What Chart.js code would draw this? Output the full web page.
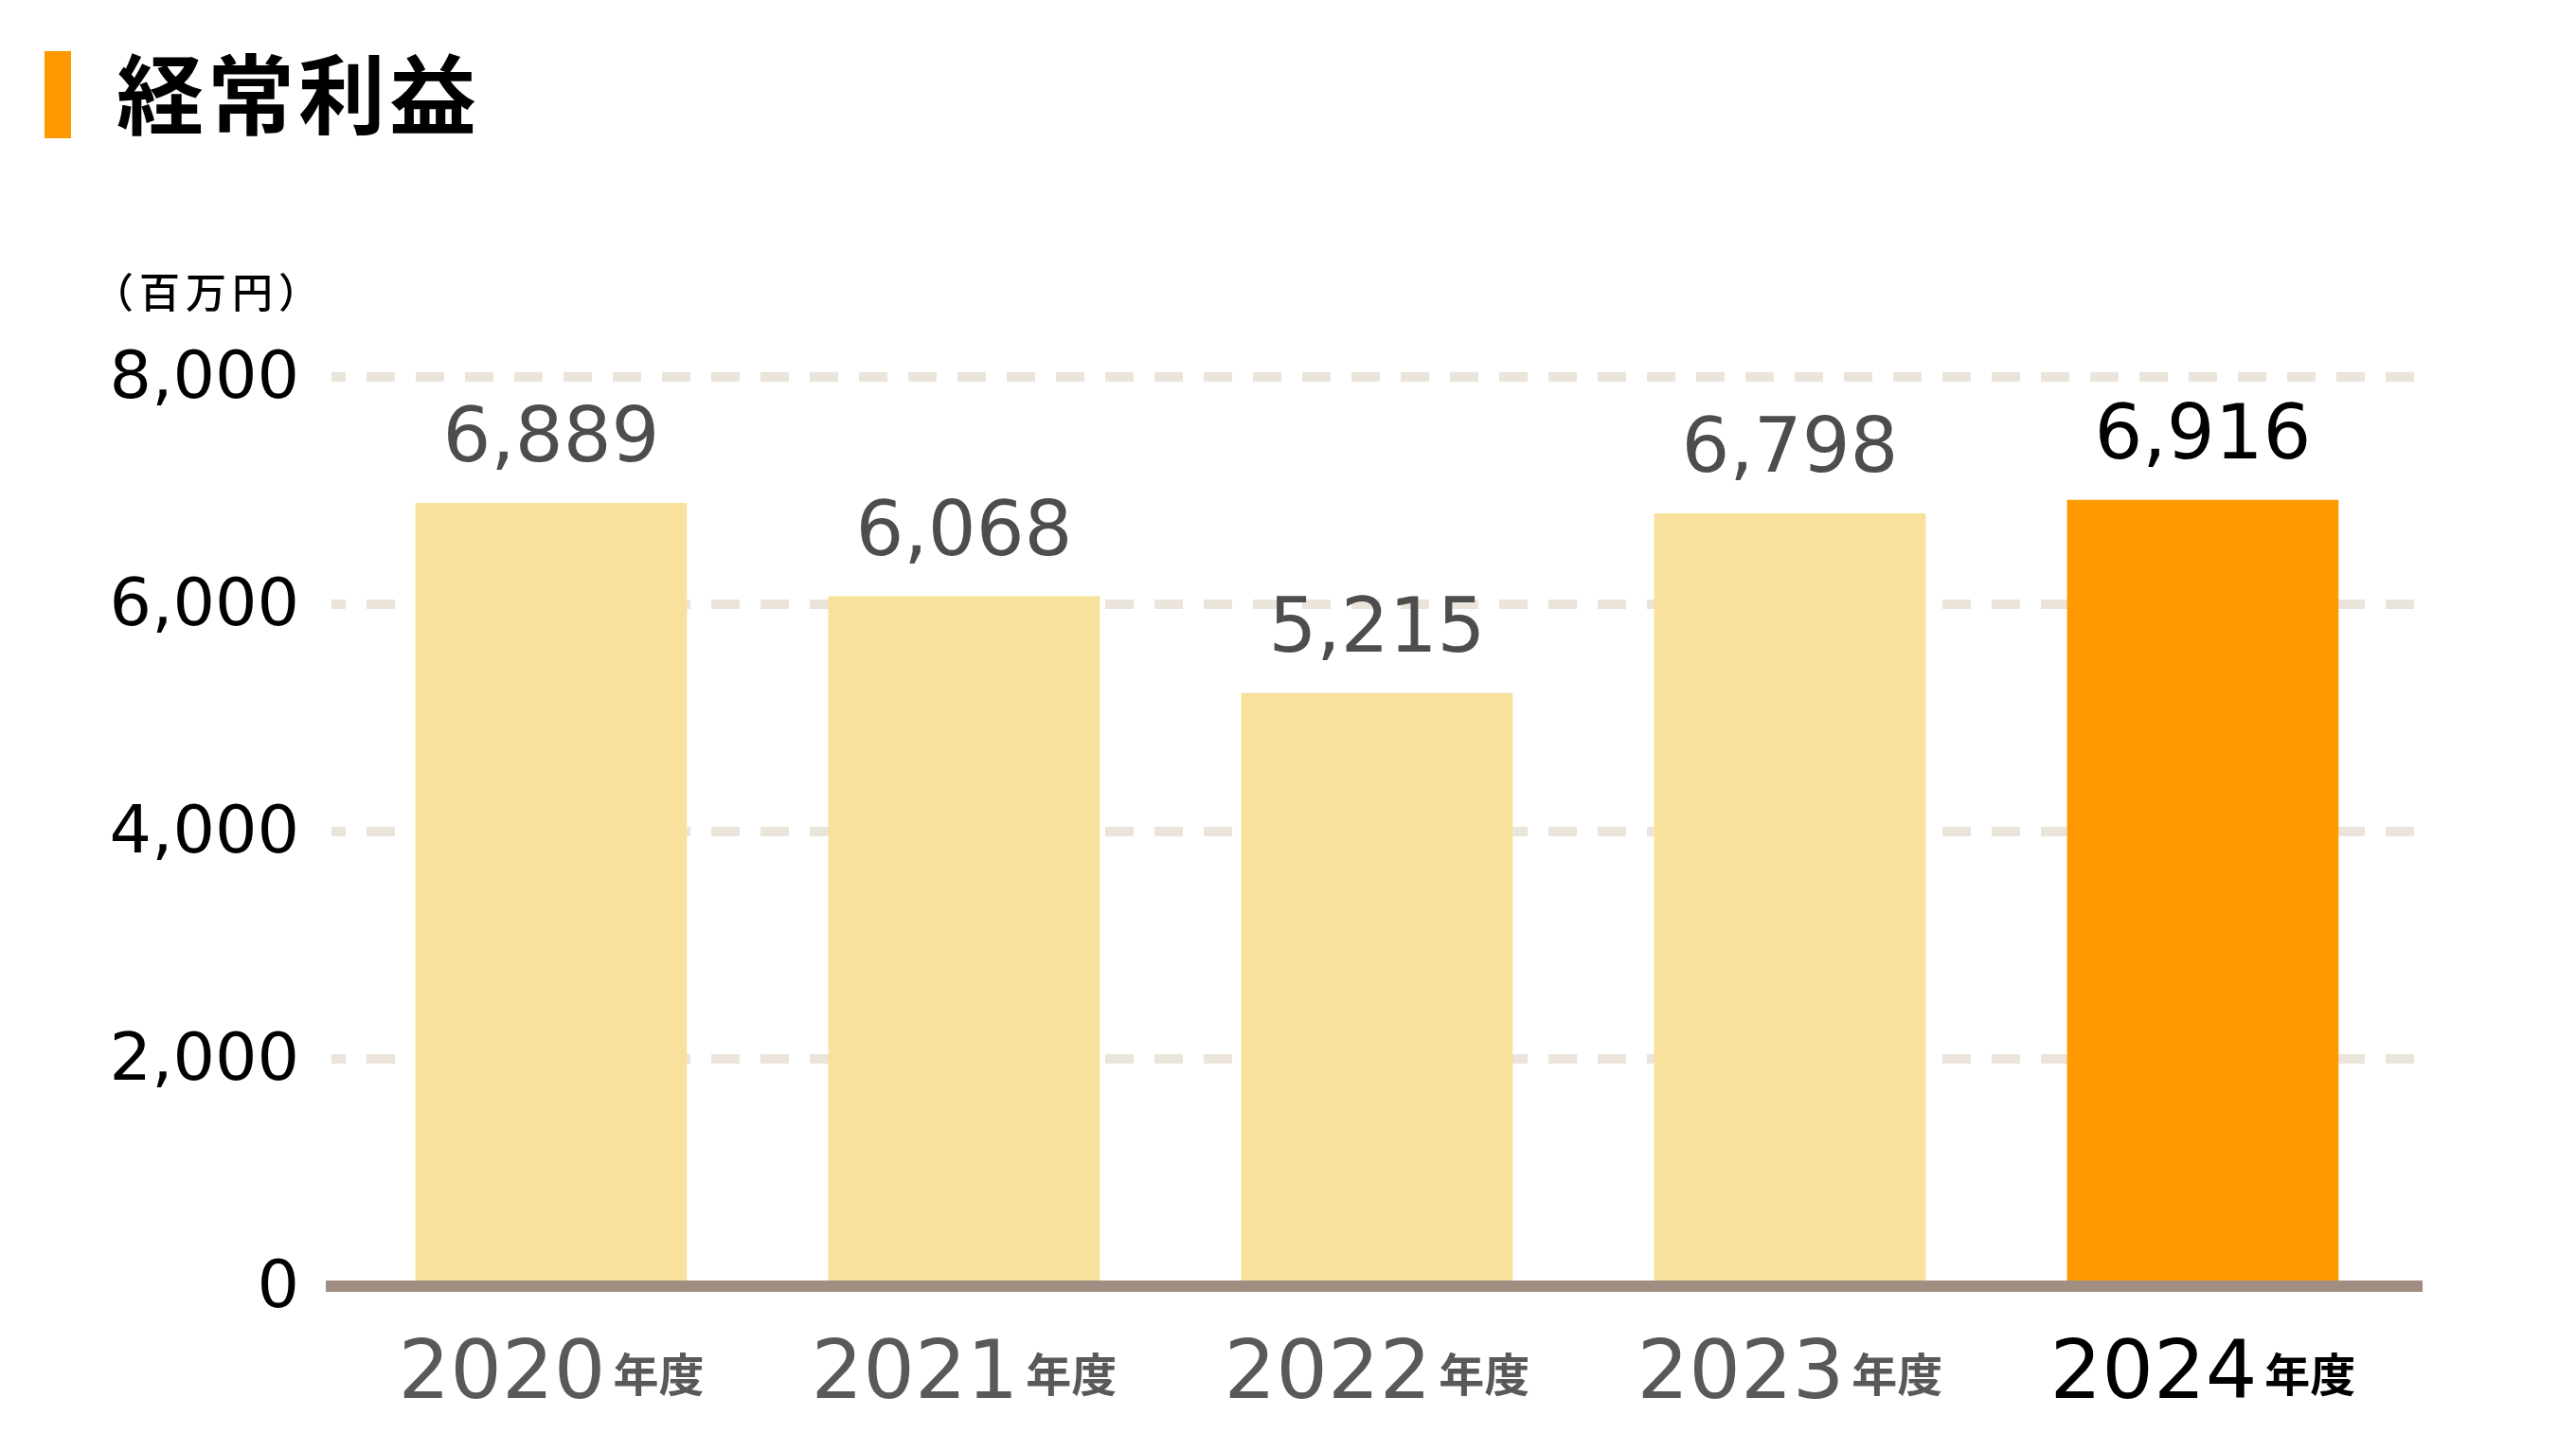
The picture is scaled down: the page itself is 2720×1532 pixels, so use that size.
<!DOCTYPE html>
<html><head><meta charset="utf-8">
<script src="https://cdn.jsdelivr.net/npm/chart.js@4.4.1/dist/chart.umd.min.js"></script>
<style>
html,body{margin:0;padding:0;background:#fff;}
#wrap{position:relative;width:2720px;height:1532px;overflow:hidden;background:#fff;}
#c{position:absolute;left:0;top:0;}
.marker{position:absolute;left:47px;top:54px;width:28px;height:92px;background:#FF9900;}
.title{position:absolute;left:123px;top:49px;font-family:"Noto Sans CJK JP";font-weight:700;font-size:92px;line-height:92px;letter-spacing:4px;color:#000;white-space:nowrap;}
.unit{position:absolute;left:98px;top:285px;font-family:"Noto Sans CJK JP";font-weight:500;font-size:43px;line-height:43px;letter-spacing:6px;color:#000;white-space:nowrap;}
</style></head>
<body><div id="wrap"><canvas id="c" width="2720" height="1532"></canvas>
<div class="marker"></div><div class="title">経常利益</div><div class="unit">（百万円）</div></div>
<script>
const categories = ['2020', '2021', '2022', '2023', '2024'];
const categorySuffix = '年度';
const values = [6889, 6068, 5215, 6798, 6916];
const yTicks = [0, 2000, 4000, 6000, 8000];
const highlightIndex = 4;

const labelPlugin = {
  id: 'customLabels',
  afterDraw(chart) {
    const ctx = chart.ctx;
    const xs = chart.scales.x;
    const meta = chart.getDatasetMeta(0);
    const base = chart.chartArea.bottom;
    ctx.save();
    meta.data.forEach((bar, i) => {
      const hl = i === highlightIndex;
      ctx.textBaseline = 'alphabetic';
      ctx.textAlign = 'center';
      ctx.fillStyle = hl ? '#000000' : '#4d4d4d';
      ctx.font = '80px "DejaVu Sans"';
      ctx.fillText(values[i].toLocaleString('en-US'), bar.x, bar.y - 44);

      const cx = xs.getPixelForValue(i);
      ctx.font = '86px "DejaVu Sans"';
      const w1 = ctx.measureText(categories[i]).width;
      ctx.font = 'bold 48px "Noto Sans CJK JP"';
      const w2 = ctx.measureText(categorySuffix).width;
      const gap = 8;
      const start = cx - (w1 + gap + w2) / 2;
      ctx.textAlign = 'left';
      ctx.fillStyle = hl ? '#000000' : '#595959';
      ctx.font = '86px "DejaVu Sans"';
      ctx.fillText(categories[i], start, base + 118);
      ctx.font = 'bold 48px "Noto Sans CJK JP"';
      ctx.fillText(categorySuffix, start + w1 + gap, base + 111);
    });
    ctx.restore();
  }
};

new Chart(document.getElementById('c'), {
  type: 'bar',
  data: {
    datasets: [{
      data: values.map((v, i) => ({ x: i, y: v })),
      backgroundColor: values.map((v, i) => i === highlightIndex ? '#FF9900' : '#F8E19B'),
      barThickness: 286,
      borderWidth: 0
    }]
  },
  options: {
    responsive: false,
    animation: false,
    devicePixelRatio: 1,
    layout: { padding: { top: 398, right: 163, left: 0, bottom: 0 } },
    plugins: { legend: { display: false }, tooltip: { enabled: false } },
    scales: {
      x: {
        type: 'linear', min: -0.532, max: 4.53, offset: false,
        grid: { display: false, offset: false },
        ticks: { display: false },
        border: { display: true, color: '#A08E82', width: 12, z: 1 },
        afterFit(s) { s.height = 174; }
      },
      y: {
        min: 0, max: 8000,
        afterBuildTicks(s) { s.ticks = yTicks.map(v => ({ value: v })); },
        ticks: {
          font: { family: '"DejaVu Sans"', size: 70 },
          color: '#000000',
          padding: 34,
          labelOffset: 4,
          callback: v => Number(v).toLocaleString('en-US')
        },
        grid: { color: '#EBE4DA', lineWidth: 10, drawTicks: false },
        border: { display: false, dash: [30, 22], dashOffset: 15 },
        afterFit(s) { s.width = 350; }
      }
    }
  },
  plugins: [labelPlugin]
});
</script>
</body></html>
